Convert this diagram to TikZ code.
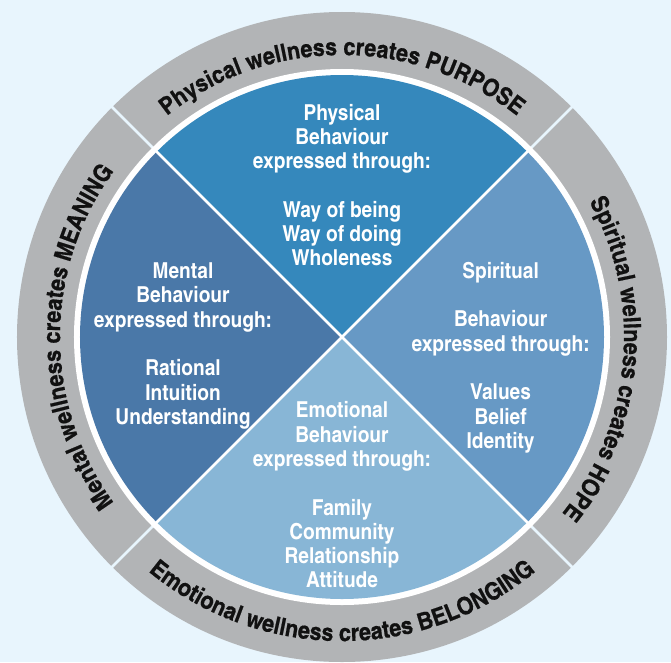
\documentclass[tikz,border=0pt]{standalone}
\usepackage{fontspec}
\setmainfont{texgyreheroscn}[Extension=.otf, UprightFont=*-regular, BoldFont=*-bold, ItalicFont=*-italic, BoldItalicFont=*-bolditalic, FakeStretch=1.06]
\newfontfamily\ringfam{texgyreheroscn}[Extension=.otf, UprightFont=*-bold, BoldFont=*-bold, FakeStretch=1.1, FakeBold=0.6]
\usetikzlibrary{decorations.text}
\definecolor{bgc}{HTML}{E8F5FD}
\definecolor{ringc}{HTML}{B2B4B6}
\definecolor{qtop}{HTML}{3588BC}
\definecolor{qleft}{HTML}{4A78A8}
\definecolor{qright}{HTML}{6799C5}
\definecolor{qbot}{HTML}{88B6D6}
\definecolor{ringtxt}{HTML}{111111}
\newcommand{\ringfont}{\ringfam\fontsize{24}{24}\selectfont}
\begin{document}
\begin{tikzpicture}[x=1pt,y=1pt,
  inner/.style={text=white, font=\bfseries\fontsize{22}{24.3}\selectfont, align=center, inner sep=0pt},
  ringtext/.style={decorate, decoration={text along path, text align=center, text color=ringtxt}},
  sep/.style={draw=bgc, line width=2.5pt},
  diag/.style={draw=white, line width=2.5pt}]
\fill[bgc] (-342,-325) rectangle (329,337);
\useasboundingbox (-342,-325) rectangle (329,337);
% ring
\fill[ringc] (0,0) circle[radius=325];
\foreach \a in {45,135,225,315} \draw[sep] (\a:266) -- (\a:328);
\fill[white] (0,0) circle[radius=268];
% quadrants
\fill[qright] (0,0) -- (-45:262) arc[start angle=-45, end angle=45, radius=262] -- cycle;
\fill[qtop] (0,0) -- (45:262) arc[start angle=45, end angle=135, radius=262] -- cycle;
\fill[qleft] (0,0) -- (135:262) arc[start angle=135, end angle=225, radius=262] -- cycle;
\fill[qbot] (0,0) -- (225:262) arc[start angle=225, end angle=315, radius=262] -- cycle;
\draw[diag] (45:264) -- (225:264);
\draw[diag] (135:264) -- (315:264);
% ring texts
\path[ringtext, decoration={text={|\ringfont|Physical wellness creates PURPOSE}}]
  (180:282) arc[start angle=180, end angle=0, radius=282];
\path[ringtext, decoration={text={|\ringfont|Spiritual wellness creates HOPE}}]
  (85:282) arc[start angle=85, end angle=-95, radius=282];
\path[ringtext, decoration={text={|\ringfont|Mental wellness creates MEANING}}]
  (270:282) arc[start angle=270, end angle=90, radius=282];
\path[ringtext, decoration={text={|\ringfont|Emotional wellness creates BELONGING}}]
  (180:304) arc[start angle=180, end angle=360, radius=304];
% inner texts
\node[inner] (phys) at (0,152) {Physical\\Behaviour\\expressed through:\\[24.3pt]Way of being\\Way of doing\\Wholeness};
\node[inner] (ment) at (-159,-9) {Mental\\Behaviour\\expressed through:\\[24.3pt]Rational\\Intuition\\Understanding};
\node[inner] (spir) at (158.6,-20.5) {Spiritual\\[24.3pt]Behaviour\\expressed through:\\[24.3pt]Values\\Belief\\Identity};
\node[inner] (emo) at (0,-158) {Emotional\\Behaviour\\expressed through:\\[24.3pt]Family\\Community\\Relationship\\Attitude};
\end{tikzpicture}
\end{document}
